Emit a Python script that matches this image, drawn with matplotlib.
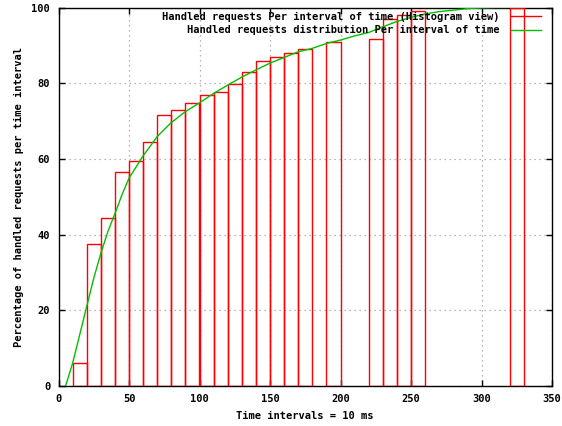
import matplotlib
matplotlib.use("Agg")
import matplotlib.pyplot as plt
from matplotlib.lines import Line2D

# Histogram bars: left edge of each 10-unit interval and its percentage
bar_left = [10, 20, 30, 40, 50, 60, 70, 80, 90, 100, 110, 120, 130, 140, 150,
            160, 170, 190, 220, 230, 240, 250, 320]
bar_height = [6.0, 37.5, 44.5, 56.6, 59.4, 64.5, 71.6, 72.8, 74.7, 76.8, 77.7,
              79.8, 83.0, 85.9, 86.8, 87.9, 89.0, 90.8, 91.8, 96.9, 98.0, 99.1, 100.0]
bar_width = 10

# Distribution curve (smoothed cumulative)
curve_x = [5, 10, 15, 20, 25, 30, 35, 40, 45, 50, 60, 70, 80, 90, 100, 110, 120,
           130, 140, 150, 160, 170, 180, 190, 200, 210, 220, 230, 240, 250, 260,
           270, 280, 290, 300, 310, 318]
curve_y = [0, 6, 13.5, 21, 28.5, 35, 40.8, 45.5, 50.5, 54.9, 60.8, 65.9, 69.6, 72.5,
           74.8, 77.3, 79.5, 81.6, 83.5, 85.3, 86.8, 88.3, 89.2, 90.5, 91.4, 92.5,
           93.4, 94.9, 96.3, 97.4, 98.3, 98.9, 99.3, 99.7, 99.9, 100, 100]

x_ticks = [0, 50, 100, 150, 200, 250, 300, 350]
y_ticks = [0, 20, 40, 60, 80, 100]

label_hist = "Handled requests Per interval of time (Histogram view)"
label_dist = "Handled requests distribution Per interval of time"
xlabel = "Time intervals = 10 ms"
ylabel = "Percentage of handled requests per time interval"

FSIZE = 7.5
FONT = dict(family="DejaVu Sans Mono", weight="bold", size=FSIZE)
RED = "#ff0000"
GREEN = "#00c000"

fig = plt.figure(figsize=(5.62, 4.26), dpi=100)
ax = fig.add_axes([58.5 / 562, 1 - 386 / 426, (552 - 58.5) / 562, (386 - 7.5) / 426])

ax.set_xlim(0, 350)
ax.set_ylim(0, 100)

ax.bar(bar_left, bar_height, width=bar_width, align="edge", fill=False,
       edgecolor=RED, linewidth=1.0, zorder=3)
ax.plot(curve_x, curve_y, color=GREEN, linewidth=1.0, zorder=4)

ax.set_xticks(x_ticks)
ax.set_yticks(y_ticks)
ax.set_xticklabels([str(v) for v in x_ticks], **FONT)
ax.set_yticklabels([str(v) for v in y_ticks], **FONT)
ax.tick_params(direction="in", length=4, width=1, top=True, right=True,
               pad=6, colors="black")
ax.grid(True, color="#a0a0a0", linestyle=(0, (1, 3)), linewidth=0.9)
for s in ax.spines.values():
    s.set_linewidth(1.0)
    s.set_color("black")

ax.set_xlabel(xlabel, labelpad=5, **FONT)
ax.set_ylabel(ylabel, labelpad=5, **FONT)

handles = [Line2D([], [], color=RED, lw=1.0), Line2D([], [], color=GREEN, lw=1.0)]
leg = ax.legend(handles, [label_hist, label_dist], loc="upper right",
                bbox_to_anchor=(541 / 562, 1 - 12 / 426), bbox_transform=fig.transFigure,
                markerfirst=False, frameon=False, handlelength=2.85,
                handletextpad=1.1, borderaxespad=0, borderpad=0,
                labelspacing=0.3, prop=dict(family="DejaVu Sans Mono", weight="bold", size=FSIZE))
leg.set_zorder(5)

fig.savefig("out.png", dpi=100)
